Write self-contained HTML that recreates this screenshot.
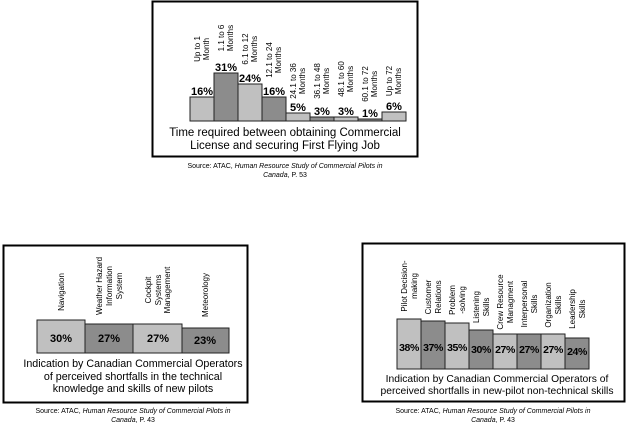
<!DOCTYPE html>
<html><head><meta charset="utf-8"><style>
html,body{margin:0;padding:0;background:#fff;}
svg{display:block;font-family:"Liberation Sans",sans-serif;}
</style></head><body>
<svg width="627" height="434" viewBox="0 0 627 434" xmlns="http://www.w3.org/2000/svg">
<!-- Top chart -->
<rect x="152.5" y="1.5" width="265" height="155" fill="#fff" stroke="#000" stroke-width="2"/>
<g stroke="#222" stroke-width="1">
<rect x="190" y="97" width="24" height="24" fill="#c0c0c0"/>
<rect x="214" y="73" width="24" height="48" fill="#8c8c8c"/>
<rect x="238" y="84" width="24" height="37" fill="#c0c0c0"/>
<rect x="262" y="97" width="24" height="24" fill="#8c8c8c"/>
<rect x="286" y="113" width="24" height="8" fill="#c0c0c0"/>
<rect x="310" y="117" width="24" height="4" fill="#8c8c8c"/>
<rect x="334" y="117" width="24" height="4" fill="#c0c0c0"/>
<rect x="358" y="119" width="24" height="2" fill="#8c8c8c"/>
<rect x="382" y="112" width="24" height="9" fill="#c0c0c0"/>
</g>
<g font-size="11" font-weight="bold" text-anchor="middle" fill="#000">
<text x="202" y="95">16%</text><text x="226" y="71">31%</text><text x="250" y="82">24%</text><text x="274" y="95">16%</text>
<text x="298" y="111">5%</text><text x="322" y="115">3%</text><text x="346" y="115">3%</text><text x="370" y="117">1%</text><text x="394" y="110">6%</text>
</g>
<g font-size="8" text-anchor="middle" fill="#000">
<g transform="translate(202,49) rotate(-90)"><text y="-2">Up to 1</text><text y="7">Month</text></g>
<g transform="translate(226,38) rotate(-90)"><text y="-2">1.1 to 6</text><text y="7">Months</text></g>
<g transform="translate(250,49) rotate(-90)"><text y="-2">6.1 to 12</text><text y="7">Months</text></g>
<g transform="translate(274,60) rotate(-90)"><text y="-2">12.1 to 24</text><text y="7">Months</text></g>
<g transform="translate(298,81) rotate(-90)"><text y="-2">24.1 to 36</text><text y="7">Months</text></g>
<g transform="translate(322,81) rotate(-90)"><text y="-2">36.1 to 48</text><text y="7">Months</text></g>
<g transform="translate(346,79) rotate(-90)"><text y="-2">48.1 to 60</text><text y="7">Months</text></g>
<g transform="translate(370,84) rotate(-90)"><text y="-2">60.1 to 72</text><text y="7">Months</text></g>
<g transform="translate(394,81) rotate(-90)"><text y="-2">Up to 72</text><text y="7">Months</text></g>
</g>
<g font-size="11.5" text-anchor="middle" fill="#000">
<text x="285" y="136">Time required between obtaining Commercial</text>
<text x="285" y="149">License and securing First Flying Job</text>
</g>
<g font-size="7" text-anchor="middle" fill="#000">
<text x="285" y="168">Source: ATAC, <tspan font-style="italic">Human Resource Study of Commercial Pilots in</tspan></text>
<text x="285" y="177"><tspan font-style="italic">Canada</tspan>, P. 53</text>
</g>

<!-- Bottom-left chart -->
<rect x="3.5" y="245.5" width="244" height="157" fill="#fff" stroke="#000" stroke-width="2"/>
<g stroke="#222" stroke-width="1">
<rect x="37" y="320" width="48" height="33" fill="#c0c0c0"/>
<rect x="85" y="324" width="48" height="29" fill="#8c8c8c"/>
<rect x="133" y="324" width="49" height="29" fill="#c0c0c0"/>
<rect x="182" y="328" width="47" height="25" fill="#8c8c8c"/>
</g>
<g font-size="11" font-weight="bold" text-anchor="middle" fill="#000">
<text x="61" y="342">30%</text><text x="109" y="342">27%</text><text x="158" y="342">27%</text><text x="205" y="344">23%</text>
</g>
<g font-size="8" text-anchor="middle" fill="#000">
<g transform="translate(61,292) rotate(-90)"><text y="3">Navigation</text></g>
<g transform="translate(109,286) rotate(-90)"><text y="-7">Weather Hazard</text><text y="3">Information</text><text y="13">System</text></g>
<g transform="translate(158,290) rotate(-90)"><text y="-7">Cockpit</text><text y="3">Systems</text><text y="12">Management</text></g>
<g transform="translate(205,295) rotate(-90)"><text y="3">Meteorology</text></g>
</g>
<g font-size="10.7" text-anchor="middle" fill="#000">
<text x="133" y="367">Indication by Canadian Commercial Operators</text>
<text x="133" y="380">of perceived shortfalls in the technical</text>
<text x="133" y="392">knowledge and skills of new pilots</text>
</g>
<g font-size="7" text-anchor="middle" fill="#000">
<text x="133" y="413">Source: ATAC, <tspan font-style="italic">Human Resource Study of Commercial Pilots in</tspan></text>
<text x="133" y="422"><tspan font-style="italic">Canada</tspan>, P. 43</text>
</g>

<!-- Bottom-right chart -->
<rect x="362.5" y="243.5" width="262" height="158" fill="#fff" stroke="#000" stroke-width="2"/>
<g stroke="#222" stroke-width="1">
<rect x="397" y="319" width="24" height="50" fill="#c0c0c0"/>
<rect x="421" y="321" width="24" height="48" fill="#8c8c8c"/>
<rect x="445" y="323" width="24" height="46" fill="#c0c0c0"/>
<rect x="469" y="330" width="24" height="39" fill="#8c8c8c"/>
<rect x="493" y="334" width="24" height="35" fill="#c0c0c0"/>
<rect x="517" y="334" width="24" height="35" fill="#8c8c8c"/>
<rect x="541" y="334" width="24" height="35" fill="#c0c0c0"/>
<rect x="565" y="338" width="24" height="31" fill="#8c8c8c"/>
</g>
<g font-size="10.5" font-weight="bold" text-anchor="middle" fill="#000" letter-spacing="-0.4">
<text x="409" y="351">38%</text><text x="433" y="351">37%</text><text x="457" y="351">35%</text><text x="481" y="353">30%</text>
<text x="505" y="353">27%</text><text x="529" y="353">27%</text><text x="553" y="353">27%</text><text x="577" y="355">24%</text>
</g>
<g font-size="8" text-anchor="middle" fill="#000">
<g transform="translate(409,286) rotate(-90)"><text y="-2">Pilot Decision-</text><text y="8">making</text></g>
<g transform="translate(433,297) rotate(-90)"><text y="-2">Customer</text><text y="8">Relations</text></g>
<g transform="translate(457,300) rotate(-90)"><text y="-2">Problem</text><text y="8">-solving</text></g>
<g transform="translate(481,307) rotate(-90)"><text y="-2">Listening</text><text y="8">Skills</text></g>
<g transform="translate(505,302) rotate(-90)"><text y="-2">Crew Resource</text><text y="8">Managment</text></g>
<g transform="translate(529,304) rotate(-90)"><text y="-2">Interpersonal</text><text y="8">Skills</text></g>
<g transform="translate(553,305) rotate(-90)"><text y="-2">Organization</text><text y="8">Skills</text></g>
<g transform="translate(577,309) rotate(-90)"><text y="-2">Leadership</text><text y="8">Skills</text></g>
</g>
<g font-size="10.3" text-anchor="middle" fill="#000">
<text x="497" y="382">Indication by Canadian Commercial Operators of</text>
<text x="497" y="394">perceived shortfalls in new-pilot non-technical skills</text>
</g>
<g font-size="7" text-anchor="middle" fill="#000">
<text x="493" y="413">Source: ATAC, <tspan font-style="italic">Human Resource Study of Commercial Pilots in</tspan></text>
<text x="493" y="422"><tspan font-style="italic">Canada</tspan>, P. 43</text>
</g>
</svg>
</body></html>
